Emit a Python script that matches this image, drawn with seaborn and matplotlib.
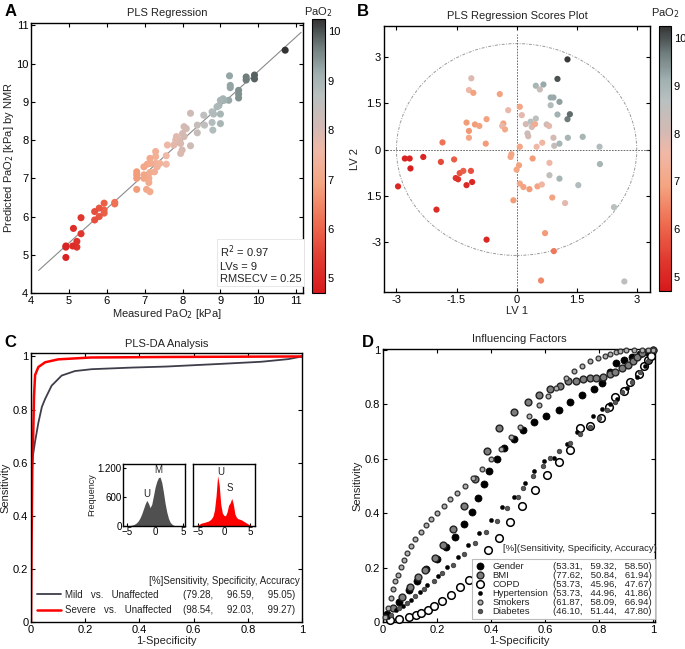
"""Four-panel PaO2 figure: PLS regression, scores plot, PLS-DA ROC and influencing factors."""

import matplotlib

matplotlib.use("Agg")

import matplotlib.pyplot as plt
import numpy as np
import pandas as pd
import seaborn as sns
from matplotlib.cm import ScalarMappable
from matplotlib.colors import LinearSegmentedColormap, Normalize
from matplotlib.lines import Line2D
from matplotlib.patches import Ellipse

# ---------------- panel A: measured vs predicted PaO2 [kPa]
MEASURED = [10.71, 9.24, 9.68, 9.68, 9.90, 9.90, 9.26, 9.26, 9.48, 9.48, 9.48, 9.22,
            9.07, 9.10, 9.00, 8.96, 8.91, 9.00, 9.00, 8.78, 8.82, 8.78, 8.80, 8.56,
            8.58, 8.39, 8.21, 8.39, 8.10, 8.04, 8.00, 8.04, 7.84, 7.90, 7.95, 7.99,
            7.95, 8.21, 7.77, 7.82, 7.60, 7.57, 7.57, 7.29, 7.29, 7.29, 7.33, 7.40,
            7.14, 7.16, 7.07, 6.98, 7.14, 7.26, 7.11, 7.11, 6.98, 6.98, 6.79, 6.79,
            6.79, 6.79, 7.05, 7.14, 6.21, 6.21, 5.93, 5.93, 5.93, 5.80, 5.80, 5.68,
            5.68, 5.32, 5.32, 5.12, 5.21, 5.21, 5.10, 4.92, 4.92, 4.92]
PREDICTED = [10.35, 9.68, 9.65, 9.57, 9.70, 9.60, 9.43, 9.37, 9.30, 9.20, 9.10, 9.04,
             9.08, 9.04, 9.04, 8.90, 8.87, 8.68, 8.43, 8.74, 8.68, 8.46, 8.26, 8.65,
             8.39, 8.39, 8.70, 8.19, 8.30, 8.35, 8.17, 8.09, 8.09, 8.00, 7.91, 7.74,
             7.65, 7.85, 7.87, 8.00, 7.87, 7.59, 7.37, 7.70, 7.57, 7.39, 7.30, 7.39,
             7.52, 7.39, 7.37, 7.30, 7.15, 7.17, 7.00, 6.89, 7.09, 7.00, 7.17, 7.09,
             7.00, 6.71, 6.71, 6.65, 6.37, 6.33, 6.35, 6.09, 6.17, 6.22, 6.00, 6.13,
             5.91, 5.97, 5.55, 5.69, 5.35, 5.20, 5.23, 5.23, 5.20, 4.93]

# ---------------- panel B: PLS scores coloured by PaO2
LV1 = [1.27, 1.02, -1.13, -1.19, -1.08, -0.42, 0.48, 0.58, 0.67, 0.85, 0.92, 0.85,
       1.07, 1.02, 1.27, 1.33, 0.08, 0.13, -0.21, -1.25, -0.75, -1.04, -0.93, -1.19,
       -1.19, -0.33, -0.36, -0.29, -1.85, -0.77, 0.23, 0.35, 0.48, 0.38, 0.27, 0.29,
       0.46, 0.75, 0.81, 0.92, 0.64, 0.50, 0.94, 1.07, 1.28, 1.65, 2.07, 2.08,
       0.08, -0.13, -0.15, 0.06, 0.00, 0.40, 0.82, 0.82, 1.07, 0.08, 0.17, 0.32,
       0.52, 0.63, 0.89, 1.21, 1.54, 2.43, -0.08, 0.71, 0.93, 0.61, 2.69, -2.96,
       -2.79, -2.67, -2.65, -2.33, -1.89, -1.56, -1.52, -1.46, -1.42, -1.33, -1.14,
       -1.25, -1.11, -2.00, -0.75]
LV2 = [2.91, 2.28, 2.30, 1.92, 1.83, 1.79, 2.06, 1.94, 2.10, 1.68, 1.68, 1.43,
       1.54, 1.13, 0.98, 1.14, 1.38, 1.11, 1.27, 0.87, 0.98, 0.81, 0.76, 0.60,
       0.38, 0.84, 0.76, 0.65, 0.23, 0.19, 0.82, 0.90, 1.00, 0.73, 0.52, 0.43,
       0.82, 0.81, 0.76, 0.38, 0.22, 0.09, 0.12, 0.19, 0.38, 0.41, 0.09, -0.47,
       0.09, -0.15, -0.24, -0.51, -0.65, -0.29, -0.43, -0.83, -0.94, -1.10, -1.21, -1.28,
       -1.19, -1.13, -1.55, -1.73, -1.15, -1.86, -1.64, -2.70, -3.28, -4.23, -4.26, -1.19,
       -0.29, -0.29, -0.61, -0.24, -0.40, -0.32, -0.92, -0.96, -0.76, -0.69, -0.69,
       -1.15, -1.05, -1.94, -2.91]
SCORE_PAO2 = [10.2, 10.0, 7.9, 7.6, 6.9, 6.9, 9.0, 8.3, 9.2, 9.2, 9.2, 8.8,
              9.3, 9.1, 9.7, 9.8, 7.0, 7.8, 7.7, 6.8, 6.9, 6.8, 6.9, 6.7,
              7.0, 6.9, 7.7, 7.1, 6.2, 6.8, 8.0, 8.7, 8.6, 8.0, 8.3, 8.1,
              7.2, 8.2, 7.8, 8.0, 7.5, 7.6, 8.4, 9.0, 9.0, 9.0, 8.8, 9.0,
              7.0, 7.0, 7.0, 6.9, 7.0, 6.8, 7.6, 8.5, 9.0, 7.0, 6.9, 6.8,
              6.9, 7.5, 6.9, 7.8, 8.8, 8.7, 6.8, 6.8, 6.3, 6.5, 8.6, 5.0,
              4.9, 4.9, 4.8, 5.0, 5.6, 5.9, 5.3, 5.2, 5.8, 5.9, 5.7,
              5.1, 5.0, 5.1, 5.0]
B_XTICKS = [-3, -1.5, 0, 1.5, 3]
B_XTICK_LABELS = ["-3", "-1.5", "0", "1.5", "3"]
B_YTICKS = [3, 1.5, 0, -1.5, -3]
B_YTICK_LABELS = ["3", "1.5", "0", "1.5", "-3"]

# ---------------- panel C: PLS-DA ROC curves and score histograms
MILD_FPR = [0.0, 0.0, 0.003, 0.006, 0.015, 0.027, 0.04, 0.052, 0.076, 0.113, 0.162,
            0.224, 0.37, 0.5, 0.7, 0.85, 0.95, 1.0]
MILD_TPR = [0.0, 0.35, 0.55, 0.62, 0.68, 0.75, 0.81, 0.84, 0.89, 0.928, 0.945,
            0.952, 0.958, 0.962, 0.972, 0.98, 0.99, 1.0]
SEVERE_FPR = [0.0, 0.002, 0.005, 0.008, 0.011, 0.015, 0.027, 0.052, 0.1, 0.22, 0.5, 1.0]
SEVERE_TPR = [0.0, 0.3, 0.6, 0.7, 0.85, 0.93, 0.96, 0.978, 0.989, 0.996, 0.998, 1.0]
C_NAMES = ["Mild   vs.   Unaffected", "Severe   vs.   Unaffected"]
C_STATS = ["(79.28,     96.59,     95.05)", "(98.54,     92.03,     99.27)"]

HIST_BINS = [-5.4, -5.1, -4.8, -4.5, -4.2, -3.9, -3.6, -3.3, -3.0, -2.7, -2.4, -2.1,
             -1.8, -1.5, -1.2, -0.9, -0.6, -0.3, 0.0, 0.3, 0.6, 0.9, 1.2, 1.5,
             1.8, 2.1, 2.4, 2.7, 3.0, 3.3, 3.6, 3.9, 4.2, 4.5, 4.8, 5.1, 5.4]
MILD_COUNTS = [0, 3, 6, 10, 18, 28, 45, 70, 110, 170, 250, 350,
               450, 530, 470, 380, 450, 620, 800, 920, 1000, 1010, 900, 700,
               470, 290, 160, 80, 40, 18, 8, 4, 2, 0, 0, 0, 0]
SEVERE_COUNTS = [5, 15, 30, 50, 65, 70, 80, 90, 100, 120, 150, 200,
                 330, 620, 1040, 850, 450, 270, 220, 210, 290, 430, 480, 570,
                 450, 250, 180, 150, 140, 130, 110, 90, 70, 50, 30, 15, 5]

# ---------------- panel D: ROC points of influencing factors
FACTORS = ["Gender", "BMI", "COPD", "Hypertension", "Smokers", "Diabetes"]
FACTOR_STATS = ["(53.31,   59.32,   58.50)", "(77.62,   50.84,   61.94)",
                "(53.73,   45.96,   47.67)", "(53.73,   44.96,   41.86)",
                "(61.87,   58.09,   66.94)", "(46.10,   51.44,   47.80)"]
GENDER_X = [0.015, 0.058, 0.095, 0.126, 0.16, 0.2, 0.234, 0.267, 0.30, 0.33, 0.353,
            0.372, 0.394, 0.421, 0.448, 0.483, 0.517, 0.56, 0.604, 0.65, 0.693, 0.736,
            0.779, 0.81, 0.84, 0.863, 0.89, 0.92, 0.95, 0.975, 1.0]
GENDER_Y = [0.03, 0.074, 0.117, 0.15, 0.196, 0.233, 0.276, 0.314, 0.359, 0.406, 0.455,
            0.506, 0.555, 0.599, 0.639, 0.673, 0.706, 0.734, 0.758, 0.78, 0.808, 0.835,
            0.857, 0.878, 0.92, 0.952, 0.965, 0.975, 0.985, 0.993, 1.0]
BMI_X = [0.037, 0.071, 0.1, 0.13, 0.154, 0.191, 0.222, 0.259, 0.30, 0.341, 0.384,
         0.431, 0.485, 0.535, 0.578, 0.619, 0.653, 0.686, 0.715, 0.74, 0.764, 0.789,
         0.814, 0.838, 0.859, 0.884, 0.905, 0.925, 0.94, 0.96, 1.0]
BMI_Y = [0.05, 0.091, 0.13, 0.167, 0.191, 0.234, 0.283, 0.341, 0.426, 0.526, 0.629,
         0.713, 0.771, 0.809, 0.835, 0.856, 0.869, 0.886, 0.888, 0.892, 0.896, 0.898,
         0.902, 0.911, 0.92, 0.933, 0.945, 0.96, 0.975, 0.99, 1.0]
COPD_X = [0.027, 0.058, 0.095, 0.123, 0.14, 0.165, 0.19, 0.22, 0.25, 0.285, 0.32,
          0.357, 0.39, 0.43, 0.47, 0.515, 0.563, 0.606, 0.65, 0.69, 0.73, 0.765,
          0.805, 0.837, 0.86, 0.89, 0.914, 0.948, 0.965, 0.98, 0.99]
COPD_Y = [0.009, 0.012, 0.018, 0.025, 0.033, 0.043, 0.058, 0.077, 0.1, 0.129, 0.156,
          0.211, 0.264, 0.31, 0.367, 0.427, 0.485, 0.54, 0.59, 0.634, 0.715, 0.72,
          0.75, 0.79, 0.828, 0.85, 0.883, 0.914, 0.94, 0.963, 0.98]
HYPER_X = [0.02, 0.05, 0.075, 0.105, 0.136, 0.164, 0.204, 0.235, 0.278, 0.315, 0.354,
           0.40, 0.44, 0.483, 0.526, 0.559, 0.597, 0.634, 0.68, 0.717, 0.777, 0.81,
           0.841, 0.866, 0.902, 0.94, 0.97, 1.0]
HYPER_Y = [0.02, 0.045, 0.06, 0.081, 0.111, 0.136, 0.169, 0.201, 0.24, 0.283, 0.326,
           0.375, 0.422, 0.461, 0.512, 0.555, 0.592, 0.605, 0.654, 0.70, 0.758, 0.783,
           0.80, 0.822, 0.861, 0.90, 0.94, 1.0]
SMOKERS_X = [0.006, 0.019, 0.028, 0.037, 0.046, 0.056, 0.065, 0.077, 0.089, 0.105, 0.12,
             0.14, 0.16, 0.179, 0.201, 0.225, 0.247, 0.275, 0.304, 0.334, 0.365, 0.399,
             0.436, 0.473, 0.507, 0.542, 0.578, 0.61, 0.64, 0.677, 0.705, 0.736, 0.764,
             0.794, 0.82, 0.84, 0.863, 0.878, 0.9, 0.93, 0.96, 0.98, 1.0]
SMOKERS_Y = [0.017, 0.053, 0.089, 0.12, 0.149, 0.173, 0.201, 0.228, 0.253, 0.279, 0.304,
             0.33, 0.358, 0.38, 0.402, 0.428, 0.451, 0.473, 0.50, 0.528, 0.5625, 0.598,
             0.635, 0.679, 0.718, 0.758, 0.798, 0.83, 0.86, 0.896, 0.923, 0.942, 0.96,
             0.97, 0.978, 0.984, 0.992, 0.996, 1.0, 1.0, 1.0, 1.0, 1.0]
DIABETES_X = [0.03, 0.06, 0.09, 0.12, 0.15, 0.19, 0.22, 0.26, 0.30, 0.34, 0.38, 0.42,
              0.46, 0.5, 0.517, 0.554, 0.591, 0.619, 0.652, 0.69, 0.73, 0.767, 0.80,
              0.83, 0.86, 0.884, 0.92, 0.95, 0.98]
DIABETES_Y = [0.025, 0.05, 0.07, 0.095, 0.12, 0.15, 0.18, 0.21, 0.25, 0.29, 0.33, 0.37,
              0.42, 0.46, 0.494, 0.538, 0.574, 0.602, 0.63, 0.66, 0.69, 0.718, 0.75,
              0.78, 0.81, 0.847, 0.883, 0.92, 0.96]

PAO2_CMAP = LinearSegmentedColormap.from_list(
    "pao2",
    [(0.0, "#d7191c"), (0.12, "#e03a30"), (0.25, "#ee6a4e"), (0.4, "#f4a582"),
     (0.52, "#f0b8a6"), (0.6, "#d5b9b3"), (0.72, "#b9c0c0"), (0.8, "#a0b0b0"),
     (0.9, "#6e7c7c"), (1.0, "#333333")],
)
PAO2_NORM = Normalize(vmin=4.7, vmax=10.25)
FS = 8


def add_colorbar(fig, rect, title_pad):
    cax = fig.add_axes(rect)
    cbar = fig.colorbar(ScalarMappable(norm=PAO2_NORM, cmap=PAO2_CMAP), cax=cax)
    cbar.set_ticks([5, 6, 7, 8, 9, 10])
    cbar.ax.tick_params(direction="in", length=3, labelsize=FS, right=True)
    cbar.outline.set_linewidth(0.8)
    cax.set_title("PaO$_2$", fontsize=FS, pad=title_pad)
    return cbar


def plot_regression(fig):
    ax = fig.add_axes([0.0453, 0.5485, 0.397, 0.416])
    df = pd.DataFrame({"measured": MEASURED, "predicted": PREDICTED})
    slope, intercept = np.polyfit(df["measured"], df["predicted"], 1)
    xs = np.array([4.2, 11.13])
    ax.plot(xs, slope * xs + intercept, color="#8a8a8a", lw=0.8, zorder=1)
    sns.scatterplot(data=df, x="measured", y="predicted", hue="measured",
                    palette=PAO2_CMAP, hue_norm=PAO2_NORM, s=26, linewidth=0,
                    legend=False, ax=ax, zorder=2)
    ax.set_xlim(4, 11.18)
    ax.set_ylim(4, 11.06)
    ax.set_xticks(range(4, 12))
    ax.set_yticks(range(4, 12))
    ax.set_title("PLS Regression", fontsize=FS, pad=5)
    ax.set_xlabel("Measured PaO$_2$ [kPa]", fontsize=FS, labelpad=1)
    ax.set_ylabel("Predicted PaO$_2$ [kPa] by NMR", fontsize=FS, labelpad=0)
    ax.text(0.695, 0.035, "R$^2$ = 0.97\nLVs = 9\nRMSECV = 0.25", transform=ax.transAxes,
            fontsize=FS, va="bottom", ha="left", linespacing=1.25,
            bbox=dict(boxstyle="square,pad=0.25", fc="white", ec="#e4e4e4", lw=0.6))
    add_colorbar(fig, [0.4555, 0.5485, 0.019, 0.422], 2)


def plot_scores(fig):
    ax = fig.add_axes([0.5606, 0.5501, 0.3883, 0.4099])
    df = pd.DataFrame({"LV1": LV1, "LV2": LV2, "pao2": SCORE_PAO2})
    ax.add_patch(Ellipse((0, 0), width=6.0, height=6.84, fill=False, ec="#9a9a9a",
                         lw=0.7, ls=(0, (3, 1.5, 1, 1.5))))
    ax.axhline(0, color="#555555", lw=0.6, ls=(0, (2, 1.5)), zorder=1)
    ax.axvline(0, ymax=0.97, color="#555555", lw=0.6, ls=(0, (2, 1.5)), zorder=1)
    sns.scatterplot(data=df, x="LV1", y="LV2", hue="pao2", palette=PAO2_CMAP,
                    hue_norm=PAO2_NORM, s=20, linewidth=0, legend=False, ax=ax, zorder=3)
    ax.set_xlim(-3.31, 3.33)
    ax.set_ylim(-4.6, 3.99)
    ax.set_xticks(B_XTICKS, B_XTICK_LABELS)
    ax.set_yticks(B_YTICKS, B_YTICK_LABELS)
    ax.set_title("PLS Regression Scores Plot", fontsize=FS, pad=5)
    ax.set_xlabel("LV 1", fontsize=FS, labelpad=1)
    ax.set_ylabel("LV 2", fontsize=FS, labelpad=4)
    add_colorbar(fig, [0.962, 0.5516, 0.0175, 0.408], 7)


def plot_inset(fig, rect, counts, color, xlim, labels, first):
    ax = fig.add_axes(rect)
    ax.fill_between(HIST_BINS, 0, counts, color=color, lw=0)
    ax.set_xlim(*xlim)
    ax.set_ylim(0, 1280)
    ax.set_xticks([-5, 0, 5])
    ax.tick_params(labelsize=7, length=2, pad=1, top=False, right=False)
    if first:
        ax.set_yticks([0, 600, 1200], ["0", "600", "1.200"])
        ax.set_ylabel("Frequency", fontsize=6.5, labelpad=1)
    else:
        ax.set_yticks([])
    for text, x, y in labels:
        ax.text(x, y, text, fontsize=7, ha="center", va="bottom")
    for spine in ax.spines.values():
        spine.set_linewidth(1.0)


def plot_plsda(fig):
    ax = fig.add_axes([0.0453, 0.0416, 0.3956, 0.4145])
    mild = pd.DataFrame({"fpr": MILD_FPR, "tpr": MILD_TPR})
    severe = pd.DataFrame({"fpr": SEVERE_FPR, "tpr": SEVERE_TPR})
    sns.lineplot(data=mild, x="fpr", y="tpr", sort=False, estimator=None,
                 color="#3e3e4a", lw=1.3, ax=ax)
    sns.lineplot(data=severe, x="fpr", y="tpr", sort=False, estimator=None,
                 color="#ff0000", lw=1.8, ax=ax)
    ticks = [0, 0.2, 0.4, 0.6, 0.8, 1]
    tick_labels = ["0", "0.2", "0.4", "0.6", "0.8", "1"]
    ax.set_xlim(0, 1)
    ax.set_ylim(0, 1.013)
    ax.set_xticks(ticks, tick_labels)
    ax.set_yticks(ticks, tick_labels)
    ax.set_title("PLS-DA Analysis", fontsize=FS, pad=4)
    ax.set_xlabel("1-Specificity", fontsize=FS, labelpad=1)
    ax.set_ylabel("Sensitivity", fontsize=FS, labelpad=2)

    handles = [Line2D([], [], color="#3e3e4a", lw=1.3), Line2D([], [], color="#ff0000", lw=1.8)]
    blanks = [Line2D([], [], ls="none") for _ in C_STATS]
    ax.legend(handles + blanks, C_NAMES + C_STATS, ncol=2, frameon=False, fontsize=7,
              loc="lower right", bbox_to_anchor=(1.0, 0.0), borderaxespad=0.3,
              handlelength=2.4, handletextpad=0.4, columnspacing=-1.6, labelspacing=0.55)
    ax.text(0.99, 0.135, "[%]Sensitivity, Specificity, Accuracy", transform=ax.transAxes,
            fontsize=7, ha="right", va="bottom")

    plot_inset(fig, [0.1796, 0.1895, 0.0905, 0.0955], MILD_COUNTS, "#505050",
               (-5.76, 5.38), [("U", -1.45, 560), ("M", 0.65, 1060)], True)
    plot_inset(fig, [0.2818, 0.1895, 0.0905, 0.0955], SEVERE_COUNTS, "#ff0000",
               (-5.9, 5.95), [("U", -0.6, 1010), ("S", 1.15, 680)], False)


def plot_factors(fig):
    ax = fig.add_axes([0.5591, 0.0416, 0.397, 0.4206])
    series = {
        "Gender": (GENDER_X, GENDER_Y, dict(s=26, color="black", edgecolor="black", linewidth=0.5)),
        "BMI": (BMI_X, BMI_Y, dict(s=24, color="#7d7d7d", edgecolor="#222222", linewidth=1.0)),
        "COPD": (COPD_X, COPD_Y, dict(s=30, color="white", edgecolor="black", linewidth=1.1)),
        "Hypertension": (HYPER_X, HYPER_Y, dict(s=9, color="black", edgecolor="black", linewidth=0.3)),
        "Smokers": (SMOKERS_X, SMOKERS_Y, dict(s=12, color="#b0b0b0", edgecolor="#333333", linewidth=0.9)),
        "Diabetes": (DIABETES_X, DIABETES_Y, dict(s=11, color="#555555", edgecolor="#333333", linewidth=0.5)),
    }
    handles = []
    for name in FACTORS:
        xs, ys, style = series[name]
        sns.scatterplot(x=xs, y=ys, ax=ax, legend=False, clip_on=False, zorder=3, **style)
        handles.append(Line2D([], [], ls="none", marker="o", markersize=np.sqrt(style["s"]),
                              markerfacecolor=style["color"], markeredgecolor=style["edgecolor"],
                              markeredgewidth=style["linewidth"]))
    ticks = [0, 0.2, 0.4, 0.6, 0.8, 1]
    tick_labels = ["0", "0.2", "0.4", "0.6", "0.8", "1"]
    ax.set_xlim(0, 1.006)
    ax.set_ylim(0, 1.004)
    ax.set_xticks(ticks, tick_labels)
    ax.set_yticks(ticks, tick_labels)
    ax.set_title("Influencing Factors", fontsize=FS, pad=5)
    ax.set_xlabel("1-Specificity", fontsize=FS, labelpad=1)
    ax.set_ylabel("Sensitivity", fontsize=FS, labelpad=2)

    blanks = [Line2D([], [], ls="none") for _ in FACTOR_STATS]
    leg = ax.legend(handles + blanks, FACTORS + FACTOR_STATS, ncol=2, fontsize=6.8,
                    loc="lower right", bbox_to_anchor=(1.0, 0.012), borderaxespad=0.0,
                    handlelength=1.2, handletextpad=0.7, columnspacing=-1.4,
                    labelspacing=0.0, borderpad=0.3, fancybox=False, framealpha=1)
    leg.get_frame().set_edgecolor("#bbbbbb")
    leg.get_frame().set_linewidth(0.8)
    leg.set_zorder(5)
    ax.text(1.008, 0.252, "[%](Sensitivity, Specificity, Accuracy)", transform=ax.transAxes,
            fontsize=6.8, ha="right", va="bottom")


def main():
    sns.set_theme(style="ticks", rc={
        "xtick.direction": "in", "ytick.direction": "in",
        "xtick.top": True, "ytick.right": True,
        "xtick.major.size": 3, "ytick.major.size": 3,
        "xtick.major.width": 0.8, "ytick.major.width": 0.8,
        "xtick.labelsize": FS, "ytick.labelsize": FS,
        "xtick.major.pad": 2, "ytick.major.pad": 2,
        "axes.linewidth": 1.0, "axes.edgecolor": "black",
        "xtick.color": "black", "ytick.color": "black",
        "text.color": "#222222", "axes.labelcolor": "#222222",
    })
    plt.rcParams["font.family"] = ["Liberation Sans", "DejaVu Sans"]

    fig = plt.figure(figsize=(6.85, 6.49), dpi=100)
    plot_regression(fig)
    plot_scores(fig)
    plot_plsda(fig)
    plot_factors(fig)

    for letter, x, y in [("A", 0.006, 0.982), ("B", 0.521, 0.982),
                         ("C", 0.006, 0.473), ("D", 0.528, 0.473)]:
        fig.text(x, y, letter, fontsize=12, fontweight="bold", color="black", va="center")

    fig.savefig("out.png", dpi=100)
    plt.close(fig)


if __name__ == "__main__":
    main()
